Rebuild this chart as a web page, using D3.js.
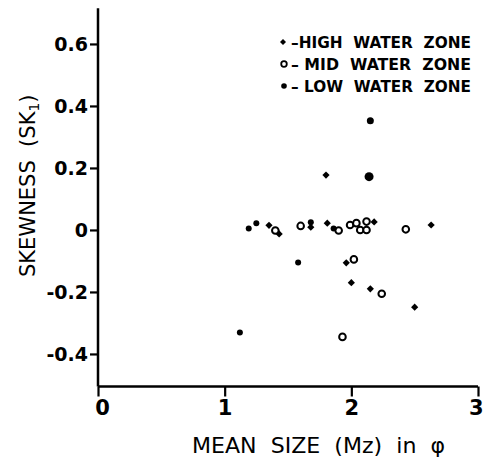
<!DOCTYPE html>
<html><head><meta charset="utf-8">
<script src="https://cdn.jsdelivr.net/npm/d3@7"></script>
<style>body{margin:0;background:#fff}svg{display:block}text{white-space:pre}</style>
</head><body>
<script>
// Data (mean size Mz in phi, skewness SK1)
const highX = [1.35, 1.43, 1.81, 2.18, 2.63, 1.96, 2.00, 2.15, 2.50, 1.80, 1.68];
const highY = [0.015, -0.013, 0.022, 0.026, 0.016, -0.106, -0.17, -0.19, -0.249, 0.177, 0.009];
const midX = [1.40, 1.60, 1.90, 1.99, 2.04, 2.07, 2.12, 2.12, 2.43, 2.02, 2.24, 1.93];
const midY = [-0.002, 0.013, -0.002, 0.016, 0.022, 0.0, 0.0, 0.027, 0.002, -0.095, -0.206, -0.345];
const lowX = [1.19, 1.25, 1.58, 1.12, 2.15, 2.14, 1.86, 1.68];
const lowY = [0.005, 0.022, -0.105, -0.331, 0.352, 0.172, 0.005, 0.025];
const lowR = [3, 3, 3, 3, 3.5, 4.5, 3, 3];
const xTicks = [0, 1, 2, 3];
const yTicks = [-0.4, -0.2, 0, 0.2, 0.4, 0.6];
const yTickLabels = ["-0.4", "-0.2", "0", "0.2", "0.4", "0.6"];
const legendLabels = ["–HIGH  WATER  ZONE", "– MID  WATER  ZONE", "– LOW  WATER  ZONE"];

const W = 484, H = 459;
const svg = d3.select("body").append("svg").attr("width", W).attr("height", H);
const x = d3.scaleLinear().domain([0, 3]).range([98, 478]);
const y = d3.scaleLinear().domain([-0.505, 0.715]).range([386.5, 8.3]);
const font = "'DejaVu Sans', sans-serif";

// axes
const xAxis = svg.append("g").attr("transform", `translate(0,${y(-0.505)})`)
  .call(d3.axisBottom(x).tickValues(xTicks).tickSize(10).tickPadding(4).tickFormat(d3.format("d")));
const yAxis = svg.append("g").attr("transform", `translate(${x(0)},0)`)
  .call(d3.axisLeft(y).tickValues(yTicks).tickSize(8).tickPadding(2).tickFormat((d,i)=>yTickLabels[i]));
[xAxis, yAxis].forEach(g => {
  g.select(".domain").attr("stroke", "#000").attr("stroke-width", 2.5);
  g.selectAll(".tick line").attr("stroke", "#000").attr("stroke-width", 2.2);
  g.selectAll(".tick text").attr("fill", "#000").style("font-family", font).style("font-weight", "bold");
});
xAxis.select(".domain").attr("d", `M${x(0)},0H${x(3)}`);
yAxis.select(".domain").attr("d", `M0,${y(-0.505)}V${y(0.715)}`);
xAxis.selectAll(".tick text").style("font-size", "21px").attr("dx", (d)=> d===0 ? 4 : (d===3 ? -1 : 0))
  .attr("text-anchor", d => d===3 ? "end" : "middle").attr("x", d => d===3 ? 6 : 0);
yAxis.selectAll(".tick text").style("font-size", "19px").attr("dy", "0.35em");

// axis titles
svg.append("text").attr("x", 192).attr("y", 453).attr("textLength", 253).attr("lengthAdjust", "spacingAndGlyphs")
  .style("font-family", font).style("font-size", "22px").attr("fill", "#000")
  .text("MEAN  SIZE  (Mz)  in  φ");
const yt = svg.append("text").attr("transform", "translate(35,277) rotate(-90)")
  .style("font-family", font).style("font-size", "21px").attr("fill", "#000");
yt.append("tspan").text("SKEWNESS  (SK");
yt.append("tspan").attr("font-size", "14px").attr("dy", 4).text("1");
yt.append("tspan").attr("dy", -4).text(")");

// marks
const diamond = d3.symbol().type(d3.symbolSquare).size(26);
svg.append("g").selectAll("path").data(highX).join("path")
  .attr("d", diamond).attr("transform", (d,i)=>`translate(${x(d)},${y(highY[i])}) rotate(45)`)
  .attr("fill", "#000");
svg.append("g").selectAll("circle").data(midX).join("circle")
  .attr("cx", d=>x(d)).attr("cy", (d,i)=>y(midY[i])).attr("r", 3.3)
  .attr("fill", "#fff").attr("stroke", "#000").attr("stroke-width", 2);
svg.append("g").selectAll("circle").data(lowX).join("circle")
  .attr("cx", d=>x(d)).attr("cy", (d,i)=>y(lowY[i])).attr("r", (d,i)=>lowR[i])
  .attr("fill", "#000");

// legend
const lg = svg.append("g");
const rowsY = [42, 64, 86];
lg.append("path").attr("d", d3.symbol().type(d3.symbolSquare).size(18)).attr("transform", `translate(283,${rowsY[0]}) rotate(45)`).attr("fill", "#000");
lg.append("circle").attr("cx", 284).attr("cy", rowsY[1]).attr("r", 2.8).attr("fill", "#fff").attr("stroke", "#000").attr("stroke-width", 1.8);
lg.append("circle").attr("cx", 284).attr("cy", rowsY[2]).attr("r", 2.8).attr("fill", "#000");
legendLabels.forEach((t,i) => {
  lg.append("text").attr("x", 291).attr("y", rowsY[i] + 5.5).attr("textLength", 180).attr("lengthAdjust", "spacingAndGlyphs")
    .style("font-family", font).style("font-size", "15px").style("font-weight", "bold").attr("fill", "#000").text(t);
});
</script>
</body></html>
